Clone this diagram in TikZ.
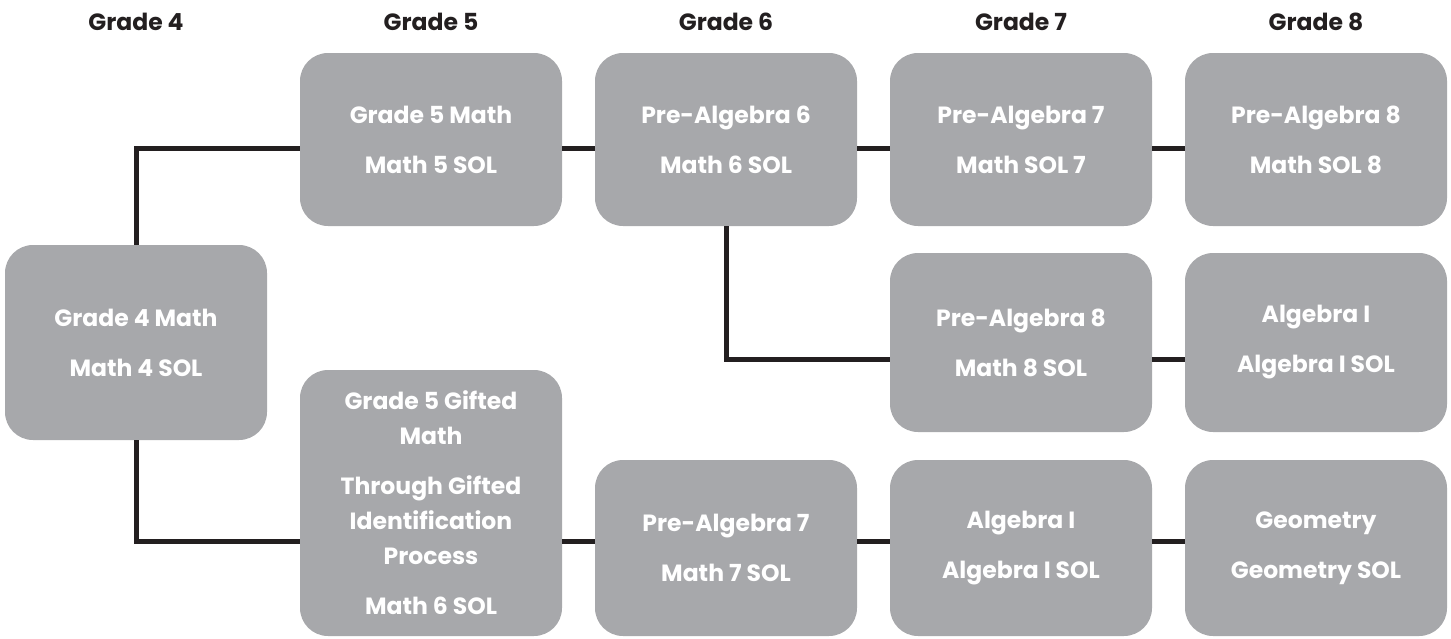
\documentclass[tikz,border=0pt]{standalone}
\usepackage{fontspec}
\setmainfont{Poppins}
\definecolor{boxgray}{HTML}{A7A8AB}
\definecolor{linkblack}{HTML}{231F20}
\begin{document}
\begin{tikzpicture}[x=1pt,y=-1pt,
    course/.style={rectangle, rounded corners=28pt, fill=boxgray, text=white,
      minimum width=262pt, inner sep=0pt, align=center,
      font=\fontsize{23.5}{35}\selectfont\bfseries},
    grade/.style={anchor=base, text=linkblack, font=\fontsize{23.5}{28}\selectfont\bfseries},
    link/.style={draw=linkblack, line width=5pt}]
  \useasboundingbox (0,0) rectangle (1451,638);
  % headers
  \node[grade] (h4) at (136,30) {Grade 4};
  \node[grade] (h5) at (431,30) {Grade 5};
  \node[grade] (h6) at (726,30) {Grade 6};
  \node[grade] (h7) at (1021,30) {Grade 7};
  \node[grade] (h8) at (1316,30) {Grade 8};
  % courses
  \node[course, minimum height=195pt] (g4) at (136,342.5) {Grade 4 Math\\[15pt]Math 4 SOL};
  \node[course, minimum height=173pt] (g5) at (431,139.5) {Grade 5 Math\\[15pt]Math 5 SOL};
  \node[course, minimum height=173pt] (pa6) at (726,139.5) {Pre-Algebra 6\\[15pt]Math 6 SOL};
  \node[course, minimum height=173pt] (pa7) at (1021,139.5) {Pre-Algebra 7\\[15pt]Math SOL 7};
  \node[course, minimum height=173pt] (pa8) at (1316,139.5) {Pre-Algebra 8\\[15pt]Math SOL 8};
  \node[course, minimum height=179pt] (pa8b) at (1021,342.5) {Pre-Algebra 8\\[15pt]Math 8 SOL};
  \node[course, minimum height=179pt] (alg) at (1316,342.5) {Algebra I\\[15pt]Algebra I SOL};
  \node[course, minimum height=266pt] (gift) at (431,503) {Grade 5 Gifted\\Math\\[15pt]Through Gifted\\Identification\\Process\\[15pt]Math 6 SOL};
  \node[course, minimum height=176pt] (pa7b) at (726,548) {Pre-Algebra 7\\[15pt]Math 7 SOL};
  \node[course, minimum height=176pt] (algb) at (1021,548) {Algebra I\\[15pt]Algebra I SOL};
  \node[course, minimum height=176pt] (geo) at (1316,548) {Geometry\\[15pt]Geometry SOL};
  % connector levels
  \coordinate (r1) at (0,148);
  \coordinate (r2) at (0,359);
  \coordinate (r3) at (0,541);
  \draw[link] (g4.north) |- (g5.west |- r1);
  \draw[link] (g5.east |- r1) -- (pa6.west |- r1);
  \draw[link] (pa6.east |- r1) -- (pa7.west |- r1);
  \draw[link] (pa7.east |- r1) -- (pa8.west |- r1);
  \draw[link] (pa6.south) |- (pa8b.west |- r2);
  \draw[link] (pa8b.east |- r2) -- (alg.west |- r2);
  \draw[link] (g4.south) |- (gift.west |- r3);
  \draw[link] (gift.east |- r3) -- (pa7b.west |- r3);
  \draw[link] (pa7b.east |- r3) -- (algb.west |- r3);
  \draw[link] (algb.east |- r3) -- (geo.west |- r3);
\end{tikzpicture}
\end{document}
